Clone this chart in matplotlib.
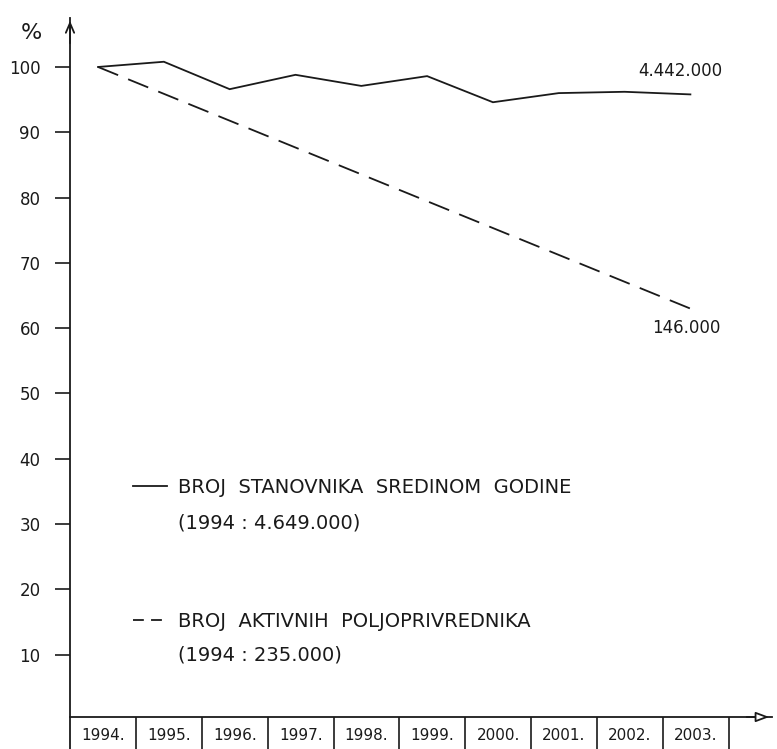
import matplotlib
matplotlib.use('Agg')
import matplotlib.pyplot as plt
from matplotlib.lines import Line2D

# ---- data ----
years = [1994, 1995, 1996, 1997, 1998, 1999, 2000, 2001, 2002, 2003]
population_pct = [100.0, 100.8, 96.6, 98.8, 97.1, 98.6, 94.6, 96.0, 96.2, 95.8]
farmer_years = [1994, 2003]
farmer_pct = [100.0, 63.0]
y_ticks = [10, 20, 30, 40, 50, 60, 70, 80, 90, 100]
y_tick_labels = ['10', '20', '30', '40', '50', '60', '70', '80', '90', '100']
year_labels = ['1994.', '1995.', '1996.', '1997.', '1998.', '1999.', '2000.', '2001.', '2002.', '2003.']
end_labels = ['4.442.000', '146.000']
legend_pop = ['BROJ  STANOVNIKA  SREDINOM  GODINE', '(1994 : 4.649.000)']
legend_farm = ['BROJ  AKTIVNIH  POLJOPRIVREDNIKA', '(1994 : 235.000)']

W, H = 777, 749
INK = '#1a1a1a'
plt.rcParams['font.family'] = ['DejaVu Sans']
fig = plt.figure(figsize=(W / 100, H / 100), dpi=100)
ax = fig.add_axes([70 / W, 1 - 717 / H, (772 - 70) / W, (717 - 18) / H])
ax.set_xlim(1993.574, 2004.24)
ax.set_ylim(0.46, 107.5)

lw = 1.3
ax.plot(years, population_pct, color=INK, lw=lw, solid_joinstyle='miter')
ax.plot(farmer_years, farmer_pct, color=INK, lw=lw, linestyle=(0, (12, 6)))

# end labels
ax.annotate(end_labels[0], xy=(years[-1], population_pct[-1]), xytext=(-7, 17),
            textcoords='offset points', ha='center', va='center', fontsize=12, color=INK)
ax.annotate(end_labels[1], xy=(farmer_years[-1], farmer_pct[-1]), xytext=(-3, -14),
            textcoords='offset points', ha='center', va='center', fontsize=12, color=INK)

# spines & arrows
for s in ['top', 'right']:
    ax.spines[s].set_visible(False)
ax.spines['left'].set_linewidth(1.3)
ax.spines['bottom'].set_linewidth(1.3)
ax.spines['left'].set_color(INK)
ax.spines['bottom'].set_color(INK)
ax.spines['left'].set_bounds(-5.2, 107.5)
ax.annotate('', xy=(0, 1.0), xytext=(0, 0.96), xycoords='axes fraction',
            arrowprops=dict(arrowstyle='->,head_length=0.7,head_width=0.3', lw=1.3, color=INK))
ax.annotate('', xy=(1.0, 0), xytext=(0.96, 0), xycoords='axes fraction',
            arrowprops=dict(arrowstyle='-|>,head_length=0.8,head_width=0.3', lw=1.3,
                            ec=INK, fc='white'))

# y ticks
ax.set_yticks(y_ticks)
ax.set_yticklabels(y_tick_labels)
ax.tick_params(axis='y', direction='out', length=10.8, width=1.2, pad=10.5, labelsize=12,
               colors=INK)

# x boxes
ax.set_xticks([y + 0.58 for y in years])
ax.set_xticklabels([''] * len(years))
ax.set_xticks([y + 0.08 for y in years], minor=True)
ax.set_xticklabels(year_labels, minor=True)
ax.tick_params(axis='x', which='major', direction='out', length=23, width=1.2, colors=INK)
ax.tick_params(axis='x', which='minor', length=0, pad=8, labelsize=11, colors=INK)

# percent label
fig.text(31 / W, 1 - 33 / H, '%', fontsize=16, ha='center', va='center', color=INK)

# legends
blank = Line2D([], [], linestyle='none')
h_solid = Line2D([], [], color=INK, lw=lw)
h_dash = Line2D([], [], color=INK, lw=lw, linestyle=(0, (6, 4)))
common = dict(frameon=False, borderpad=0, handlelength=1.75, handletextpad=0.57,
              fontsize=14, loc='upper left', bbox_transform=fig.transFigure,
              borderaxespad=0)
leg1 = ax.legend([h_solid, blank], legend_pop, labelspacing=0.85,
                 bbox_to_anchor=(133 / W, 1 - 478 / H), **common)
ax.add_artist(leg1)
leg2 = ax.legend([h_dash, blank], legend_farm, labelspacing=0.75,
                 bbox_to_anchor=(133 / W, 1 - 612 / H), **common)
for lg in (leg1, leg2):
    for t in lg.get_texts():
        t.set_color(INK)

fig.savefig('out.png', dpi=100)
